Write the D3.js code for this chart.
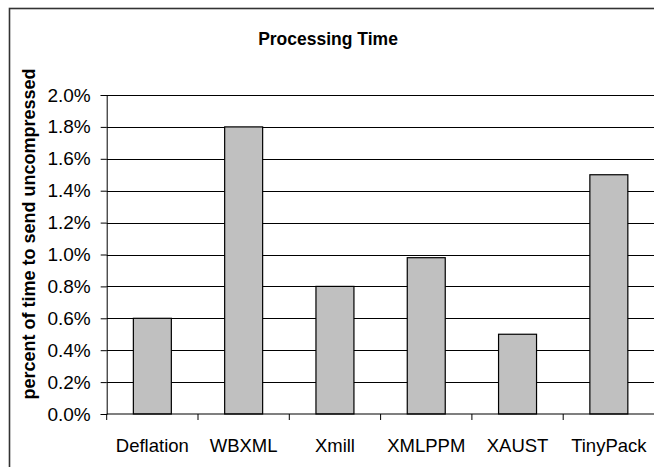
<!DOCTYPE html>
<html><head><meta charset="utf-8">
<script src="https://cdn.jsdelivr.net/npm/d3@7/dist/d3.min.js"></script>
<style>body{margin:0;background:#fff}svg{display:block}text{font-family:"Liberation Sans",Arial,sans-serif}</style>
</head><body><svg id="c" width="654" height="467"></svg>
<script>
const categories = ["Deflation","WBXML","Xmill","XMLPPM","XAUST","TinyPack"];
const values = [0.006,0.018,0.008,0.0098,0.005,0.015];
const yTicks = [0,0.002,0.004,0.006,0.008,0.010,0.012,0.014,0.016,0.018,0.020];
const title = "Processing Time";
const yTitle = "percent of time to send uncompressed";

const svg = d3.select("#c");
const plotLeft = 106.7, step = 91.3, plotTop = 95, plotBottom = 414;
const plotRight = plotLeft + step*categories.length;

// outer chart border
svg.append("rect").attr("x",9.5).attr("y",8.5).attr("width",660).attr("height",470)
  .attr("fill","none").attr("stroke","#333").attr("stroke-width",1.6);

const x = d3.scaleBand().domain(categories).range([plotLeft,plotRight]).paddingInner(0.584).paddingOuter(0.292);
const xb = d3.scaleBand().domain(categories).range([plotLeft,plotRight]).padding(0);
const y = d3.scaleLinear().domain([0,0.02]).range([plotBottom,plotTop]);

// gridlines
svg.append("g").selectAll("line").data(yTicks.slice(1)).join("line")
  .attr("x1",plotLeft).attr("x2",plotRight).attr("y1",d=>Math.round(y(d))+0.5).attr("y2",d=>Math.round(y(d))+0.5)
  .attr("stroke","#000").attr("stroke-width",1);

// bars
svg.append("g").selectAll("rect").data(categories).join("rect")
  .attr("x",d=>x(d)).attr("width",x.bandwidth())
  .attr("y",(d,i)=>y(values[i])).attr("height",(d,i)=>plotBottom-y(values[i]))
  .attr("fill","#c0c0c0").attr("stroke","#000").attr("stroke-width",1.2);

// y axis
const yAxis = d3.axisLeft(y).tickValues(yTicks).tickFormat(d3.format(".1%")).tickSize(6).tickPadding(10);
const gy = svg.append("g").attr("transform",`translate(${plotLeft},0)`).call(yAxis);
gy.select(".domain").attr("stroke","#000");
gy.selectAll("text").attr("font-size",19).attr("fill","#000").style("font-family","'Liberation Sans',Arial,sans-serif");

// x axis
const gx = svg.append("g").attr("transform",`translate(0,${plotBottom})`);
gx.append("line").attr("x1",plotLeft).attr("x2",plotRight).attr("stroke","#000").attr("stroke-width",1.2);
gx.selectAll("line.t").data(categories).join("line").attr("class","t")
  .attr("x1",d=>xb(d)).attr("x2",d=>xb(d)).attr("y1",0).attr("y2",6).attr("stroke","#000");
gx.selectAll("text").data(categories).join("text")
  .attr("x",d=>x(d)+x.bandwidth()/2).attr("y",38).attr("text-anchor","middle")
  .attr("font-size",18.5).attr("fill","#000").text(d=>d);

// title
svg.append("text").attr("x",328).attr("y",45).attr("text-anchor","middle")
  .attr("font-size",17.5).attr("font-weight","bold").text(title);

// y title
svg.append("text").attr("transform",`translate(35,${(65+403)/2}) rotate(-90)`)
  .attr("text-anchor","middle").attr("font-size",18).attr("font-weight","bold").text(yTitle);
</script></body></html>
